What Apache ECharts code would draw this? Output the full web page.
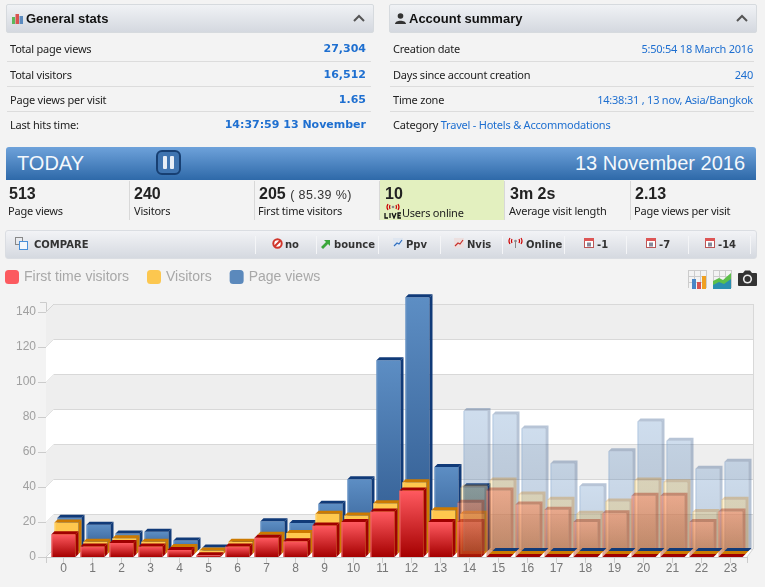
<!DOCTYPE html>
<html>
<head>
<meta charset="utf-8">
<title>Today stats</title>
<script src="https://cdn.jsdelivr.net/npm/echarts@6/dist/echarts.min.js"></script>
<style>
  html, body { margin: 0; padding: 0; background: #f3f3f3; overflow: hidden; }
  body { width: 765px; height: 587px; position: relative; font-family: "Noto Sans", "Liberation Sans", sans-serif; font-size: 11px; letter-spacing: -0.22px; color: #222; }
  #main { position: absolute; left: 0; top: 0; width: 765px; height: 587px; letter-spacing: 0; }
  .abs, .panel, .sep, .row, .num, .lab, .ci, .vs { position: absolute; }
  .panel { top: 4px; width: 366px; height: 27px; border: 1px solid #d6dade; border-radius: 2px; background: linear-gradient(#f0f2f5, #d4d8df); }
  .panel b { position: absolute; left: 19px; top: 6px; font: bold 13px "Liberation Sans", sans-serif; letter-spacing: 0; color: #111; }
  .panel svg { position: absolute; }
  .row { height: 14px; line-height: 14px; white-space: nowrap; color: #222; }
  .r { text-align: right; color: #1e6fd0; }
  .big { font: bold 11px "DejaVu Sans", sans-serif; letter-spacing: 0; color: #1e6fd0; }
  .sep { height: 1px; background: #dcdcdc; }
  #band { position: absolute; left: 6px; top: 147px; width: 750px; height: 33px; border-radius: 3px 3px 0 0; background: linear-gradient(#6ea2da, #2e69a9); color: #f4f8fc; font-family: "Liberation Sans", sans-serif; letter-spacing: 0; }
  #band span { position: absolute; top: 4px; font-size: 20px; line-height: 25px; }
  .num { top: 185px; font-family: "Liberation Sans", sans-serif; font-size: 16px; line-height: 18px; font-weight: bold; letter-spacing: 0; color: #222; }
  .num i { font-style: normal; font-weight: normal; font-size: 12.5px; color: #333; letter-spacing: 0.4px; }
  .lab { top: 204px; line-height: 14px; font-size: 11px; color: #222; white-space: nowrap; }
  .vs { top: 181px; width: 1px; height: 39px; background: #d8d8d8; }
  #cmp { position: absolute; left: 5px; top: 230px; width: 750px; height: 27px; border: 1px solid #dadde2; border-radius: 3px; background: linear-gradient(#f2f3f6, #d5d9e0); }
  .ci { top: 238px; font: bold 10px "DejaVu Sans", sans-serif; line-height: 14px; letter-spacing: 0; color: #333; white-space: nowrap; }
  .cs { position: absolute; top: 236px; width: 1px; height: 18px; background: #f4f5f7; }
</style>
</head>
<body>
<div id="main"></div>

<div class="panel" style="left:6px">
  <svg style="left:5px;top:8px" width="11" height="11"><rect x="0" y="4" width="3" height="7" fill="#5cb85c"/><rect x="3.5" y="1" width="3.5" height="10" fill="#d9534f"/><rect x="7.5" y="3" width="3.5" height="8" fill="#5b8bbf"/></svg>
  <b>General stats</b>
  <svg style="left:346px;top:9px" width="12" height="8"><path d="M1 7 L6 2 L11 7" fill="none" stroke="#555" stroke-width="2"/></svg>
</div>
<div class="panel" style="left:389px">
  <svg style="left:5px;top:8px" width="11" height="11"><circle cx="5.5" cy="3" r="2.8" fill="#333"/><path d="M0 11 C0 6.5 11 6.5 11 11 Z" fill="#333"/></svg>
  <b>Account summary</b>
  <svg style="left:346px;top:9px" width="12" height="8"><path d="M1 7 L6 2 L11 7" fill="none" stroke="#555" stroke-width="2"/></svg>
</div>

<div class="row" style="left:10px;top:42px">Total page views</div>
<div class="row r big" style="right:399px;top:42px">27,304</div>
<div class="sep" style="left:7px;width:364px;top:61px"></div>
<div class="row" style="left:10px;top:68px">Total visitors</div>
<div class="row r big" style="right:399px;top:68px">16,512</div>
<div class="sep" style="left:7px;width:364px;top:86px"></div>
<div class="row" style="left:10px;top:93px">Page views per visit</div>
<div class="row r big" style="right:399px;top:93px">1.65</div>
<div class="sep" style="left:7px;width:364px;top:111px"></div>
<div class="row" style="left:10px;top:118px">Last hits time:</div>
<div class="row r big" style="right:399px;top:118px">14:37:59 13 November</div>

<div class="row" style="left:393px;top:42px">Creation date</div>
<div class="row r" style="right:12px;top:42px">5:50:54 18 March 2016</div>
<div class="sep" style="left:390px;width:364px;top:61px"></div>
<div class="row" style="left:393px;top:68px">Days since account creation</div>
<div class="row r" style="right:12px;top:68px">240</div>
<div class="sep" style="left:390px;width:364px;top:86px"></div>
<div class="row" style="left:393px;top:93px">Time zone</div>
<div class="row r" style="right:12px;top:93px">14:38:31 , 13 nov, Asia/Bangkok</div>
<div class="sep" style="left:390px;width:364px;top:111px"></div>
<div class="row" style="left:393px;top:118px">Category <span style="color:#1e6fd0">Travel - Hotels &amp; Accommodations</span></div>

<div id="band">
  <span style="left:11px">TODAY</span>
  <span style="right:11px">13 November 2016</span>
  <svg style="position:absolute;left:150px;top:3px" width="25" height="25"><rect x="1" y="1" width="23" height="23" rx="5" fill="#3f74b0" stroke="#173f72" stroke-width="2"/><rect x="7" y="6" width="4" height="13" rx="1" fill="#e8eef6"/><rect x="14" y="6" width="4" height="13" rx="1" fill="#e8eef6"/></svg>
</div>

<div class="abs" style="left:380px;top:180px;width:124px;height:40px;background:#e3f0bf"></div>
<div class="vs" style="left:129px"></div>
<div class="vs" style="left:254px"></div>
<div class="vs" style="left:379px"></div>
<div class="vs" style="left:504px"></div>
<div class="vs" style="left:630px"></div>
<div class="num" style="left:9px">513</div><div class="lab" style="left:8px">Page views</div>
<div class="num" style="left:134px">240</div><div class="lab" style="left:134px">Visitors</div>
<div class="num" style="left:259px">205 <i>( 85.39 %)</i></div><div class="lab" style="left:258px">First time visitors</div>
<div class="num" style="left:385px">10</div><div class="lab" style="left:402px;top:206px">Users online</div>
<svg class="abs" style="left:384px;top:203px" width="18" height="16"><path d="M4 1 Q2 4 4 7 M14 1 Q16 4 14 7 M6 2 Q5 4 6 6 M12 2 Q13 4 12 6" fill="none" stroke="#c00" stroke-width="1.2"/><circle cx="9" cy="4" r="1.3" fill="#888"/><path d="M1 10 V15 H4 M6 10 V15 M8 10 L10 15 L12 10 M17 10 H14 V15 H17 M14 12.5 H16.5" fill="none" stroke="#111" stroke-width="1.3"/></svg>
<div class="num" style="left:510px">3m 2s</div><div class="lab" style="left:509px">Average visit length</div>
<div class="num" style="left:635px">2.13</div><div class="lab" style="left:634px">Page views per visit</div>

<div id="cmp"></div>
<svg class="abs" style="left:15px;top:237px" width="13" height="13"><rect x="0.5" y="0.5" width="7" height="7" fill="none" stroke="#888"/><rect x="4.5" y="4.5" width="8" height="8" fill="#f4f8fc" stroke="#4a90d9"/></svg>
<div class="ci" style="left:34px;top:238px">COMPARE</div>
<div class="cs" style="left:255px"></div><div class="cs" style="left:316px"></div><div class="cs" style="left:378px"></div>
<div class="cs" style="left:440px"></div><div class="cs" style="left:502px"></div><div class="cs" style="left:564px"></div>
<div class="cs" style="left:626px"></div><div class="cs" style="left:688px"></div><div class="cs" style="left:750px"></div>
<svg class="abs" style="left:272px;top:238px" width="11" height="11"><circle cx="5.5" cy="5.5" r="4.2" fill="#fff" stroke="#d0352b" stroke-width="2"/><path d="M2.5 8.5 L8.5 2.5" stroke="#d0352b" stroke-width="2"/></svg>
<div class="ci" style="left:285px">no</div>
<svg class="abs" style="left:320px;top:238px" width="11" height="11"><path d="M1 9 L6 4 L4 2 H10 V8 L8 6 L3 11 Z" fill="#3aa63a"/></svg>
<div class="ci" style="left:334px">bounce</div>
<svg class="abs" style="left:393px;top:238px" width="10" height="10"><rect width="10" height="10" fill="#dfe6f0"/><path d="M1 8 L4 5 L6 6 L9 2" fill="none" stroke="#2f6fc0" stroke-width="1.2"/></svg>
<div class="ci" style="left:406px">Ppv</div>
<svg class="abs" style="left:454px;top:238px" width="10" height="10"><rect width="10" height="10" fill="#ecdfdf"/><path d="M1 8 L4 5 L6 6 L9 2" fill="none" stroke="#c8302b" stroke-width="1.2"/></svg>
<div class="ci" style="left:467px">Nvis</div>
<svg class="abs" style="left:507px;top:237px" width="17" height="12"><path d="M3 1 Q1 4 3 7 M14 1 Q16 4 14 7 M5 2 Q4 4 5 6 M12 2 Q13 4 12 6" fill="none" stroke="#c00" stroke-width="1.2"/><circle cx="8.5" cy="4" r="1.3" fill="#888"/><path d="M8.5 5 V11" stroke="#888"/></svg>
<div class="ci" style="left:526px">Online</div>
<svg class="abs" style="left:584px;top:238px" width="10" height="10"><rect x="0.5" y="0.5" width="9" height="9" fill="#fff" stroke="#b55"/><rect x="0" y="0" width="10" height="3" fill="#d55"/><rect x="3" y="4.5" width="4" height="4" fill="#889"/></svg>
<div class="ci" style="left:597px">-1</div>
<svg class="abs" style="left:646px;top:238px" width="10" height="10"><rect x="0.5" y="0.5" width="9" height="9" fill="#fff" stroke="#b55"/><rect x="0" y="0" width="10" height="3" fill="#d55"/><rect x="3" y="4.5" width="4" height="4" fill="#889"/></svg>
<div class="ci" style="left:659px">-7</div>
<svg class="abs" style="left:705px;top:238px" width="10" height="10"><rect x="0.5" y="0.5" width="9" height="9" fill="#fff" stroke="#b55"/><rect x="0" y="0" width="10" height="3" fill="#d55"/><rect x="3" y="4.5" width="4" height="4" fill="#889"/></svg>
<div class="ci" style="left:718px">-14</div>

<svg class="abs" style="left:688px;top:270px" width="19" height="19"><path d="M0.5 0 V18 M6.5 0 V18 M12.5 0 V18 M18.5 0 V18 M0 0.5 H19 M0 6.5 H19 M0 12.5 H19" stroke="#ccc"/><rect x="4" y="9" width="4" height="10" fill="#4a86c5"/><rect x="9" y="12" width="4" height="7" fill="#d9534f"/><rect x="14" y="6" width="4" height="13" fill="#f0a020"/></svg>
<svg class="abs" style="left:713px;top:270px" width="19" height="19"><path d="M0.5 0 V18 M6.5 0 V18 M12.5 0 V18 M18.5 0 V18 M0 0.5 H19 M0 6.5 H19 M0 12.5 H19" stroke="#ccc"/><path d="M0 11 L6 8 L10 10 L18 3 V19 H0 Z" fill="#5cc04a"/><path d="M0 15 L6 12 L11 14 L18 9 V19 H0 Z" fill="#2a8fb0"/></svg>
<svg class="abs" style="left:738px;top:270px" width="19" height="16"><path d="M1 3 H5 L7 0.5 H12 L14 3 H18 Q19 3 19 4 V15 Q19 16 18 16 H1 Q0 16 0 15 V4 Q0 3 1 3 Z" fill="#333"/><circle cx="9.5" cy="9" r="4.6" fill="#eee"/><circle cx="9.5" cy="9" r="3" fill="#333"/></svg>

<script>
// values
const hours = ["0", "1", "2", "3", "4", "5", "6", "7", "8", "9", "10", "11", "12", "13", "14", "15", "16", "17", "18", "19", "20", "21", "22", "23"];
const firstTimeVisitors = [13, 6, 8, 6, 4, 1, 6, 11, 9, 18, 20, 26, 38, 20, 20, 0, 0, 0, 0, 0, 0, 0, 0, 0];
const visitors = [18, 7, 9, 7, 4, 2, 7, 11, 12, 23, 22, 29, 41, 25, 23, 0, 0, 0, 0, 0, 0, 0, 0, 0];
const pageViews = [19, 15, 10, 11, 6, 2, 5, 17, 16, 27, 41, 109, 145, 48, 37, 0, 0, 0, 0, 0, 0, 0, 0, 0];
// faded bars for the rest of the day, starting at hour 14
const ghostStart = 14;
const ghostFirstTime = [31, 38, 30, 27, 20, 25, 35, 35, 20, 26];
const ghostVisitors = [38, 42, 34, 31, 23, 30, 42, 41, 24, 31];
const ghostPageViews = [80, 78, 70, 50, 37, 57, 74, 63, 47, 51];
const wallTicks = [0, 20, 40, 60, 80, 100, 120];

const chart = echarts.init(document.getElementById("main"));

const blue = { top: "#5d8ec4", bottom: "#2d578c", dark: "#103a78", edge: "#6f98c8" };
const yellow = { top: "#ffc84e", bottom: "#ffc84e", dark: "#cc7a00", edge: "#ffd97f" };
const red = { top: "#ff5a60", bottom: "#a50000", dark: "#a00000", edge: "#f06a6a" };
const ghostRed = { top: "#ff7050", bottom: "#a03008", dark: "#a82810", edge: "#ff9a80" };
const DEPTH = 3;
const FACE = 24;

function face(c) {
  return new echarts.graphic.LinearGradient(0, 0, 0, 1, [
    { offset: 0, color: c.top },
    { offset: 1, color: c.bottom },
  ]);
}

// one 3D column: step is how far back in the chart the series sits
function columnItem(step, c, opacity) {
  return (params, api) => {
    const v = api.value(1);
    const base = api.coord([api.value(0), 0]);
    const h = base[1] - api.coord([api.value(0), v])[1];
    const x = base[0] - FACE / 2 + step * DEPTH;
    const yb = base[1] - step * DEPTH;
    const yt = yb - h;
    const children = [];
    if (v > 0) {
      children.push({
        type: "rect",
        shape: { x: x, y: yt, width: FACE, height: h },
        style: { fill: face(c), opacity: opacity },
      });
      children.push({
        type: "polygon",
        shape: { points: [[x + FACE, yt], [x + FACE + DEPTH, yt - DEPTH], [x + FACE + DEPTH, yb - DEPTH], [x + FACE, yb]] },
        style: { fill: c.dark, opacity: opacity },
      });
      children.push({
        type: "line",
        shape: { x1: x + 0.5, y1: yt, x2: x + 0.5, y2: yb },
        style: { stroke: c.edge, lineWidth: 1, opacity: opacity },
      });
    }
    children.push({
      type: "polygon",
      shape: { points: [[x, yt], [x + DEPTH, yt - DEPTH], [x + FACE + DEPTH, yt - DEPTH], [x + FACE, yt]] },
      style: { fill: c.dark, opacity: opacity },
    });
    return { type: "group", children: children };
  };
}

// back wall bands, floor and the axis bits the category/value axes do not draw
function wallItem(params, api) {
  const cs = params.coordSys;
  const tick = api.value(0);
  const idx = wallTicks.indexOf(tick);
  const y0 = api.coord([0, tick])[1];
  const y1 = api.coord([0, tick + 20])[1];
  const lx = cs.x + 5;
  const rx = cs.x + 704;
  const children = [
    { type: "rect", shape: { x: lx, y: y1 - 8, width: rx - lx, height: y0 - y1 }, style: { fill: idx % 2 ? "#ffffff" : "#eeeeee" } },
    { type: "polygon", shape: { points: [[cs.x - 3, y1], [lx, y1 - 8], [lx, y0 - 8], [cs.x - 3, y0]] }, style: { fill: idx % 2 ? "#ffffff" : "#eeeeee" } },
    { type: "line", shape: { x1: lx, y1: y1 - 7.5, x2: rx, y2: y1 - 7.5 }, style: { stroke: "#d8d8d8", lineWidth: 1 } },
    { type: "line", shape: { x1: cs.x - 3, y1: y1, x2: lx, y2: y1 - 8 }, style: { stroke: "#d4d4d4", lineWidth: 1 } },
  ];
  if (idx === 0) {
    children.push(
      { type: "polygon", shape: { points: [[cs.x - 3, y0], [lx, y0 - 8], [rx, y0 - 8], [cs.x + 698, y0]] }, style: { fill: "#ffffff" } },
      { type: "line", shape: { x1: lx, y1: y0 - 7.5, x2: rx, y2: y0 - 7.5 }, style: { stroke: "#d8d8d8", lineWidth: 1 } },
      { type: "line", shape: { x1: cs.x - 3, y1: y0, x2: lx, y2: y0 - 8 }, style: { stroke: "#d4d4d4", lineWidth: 1 } },
      { type: "line", shape: { x1: cs.x - 3, y1: y0 + 0.5, x2: cs.x + 698, y2: y0 + 0.5 }, style: { stroke: "#cccccc", lineWidth: 1 } },
      { type: "line", shape: { x1: cs.x + 698, y1: y0, x2: rx, y2: y0 - 8 }, style: { stroke: "#d4d4d4", lineWidth: 1 } },
      { type: "line", shape: { x1: rx + 0.5, y1: y0 - 8, x2: rx + 0.5, y2: cs.y - 8 }, style: { stroke: "#d8d8d8", lineWidth: 1 } },
      { type: "line", shape: { x1: cs.x - 2.5, y1: y0, x2: cs.x - 2.5, y2: y0 + 6 }, style: { stroke: "#cccccc", lineWidth: 1 } },
      { type: "line", shape: { x1: cs.x + 698.5, y1: y0, x2: cs.x + 698.5, y2: y0 + 6 }, style: { stroke: "#cccccc", lineWidth: 1 } },
      { type: "polyline", shape: { points: [[cs.x - 2.5, cs.y], [cs.x - 2.5, cs.y - 9.5], [cs.x - 9, cs.y - 9.5]] }, style: { fill: "none", stroke: "#cccccc", lineWidth: 1 } }
    );
  }
  return { type: "group", children: children };
}

function pairs(values) {
  return values.map((v, i) => [i, v]);
}
function ghostPairs(values) {
  return values.map((v, i) => [ghostStart + i, v]);
}
function flatPairs(values) {
  return pairs(values).filter((p) => p[1] === 0);
}
function realPairs(values) {
  return pairs(values).filter((p) => p[1] > 0);
}

function column(name, data, step, c, opacity, z) {
  return {
    name: name,
    type: "custom",
    coordinateSystem: "cartesian2d",
    renderItem: columnItem(step, c, opacity),
    encode: { x: 0, y: 1 },
    data: data,
    z: z,
    silent: true,
    itemStyle: { color: c.top },
  };
}

const option = {
  animation: false,
  backgroundColor: "transparent",
  tooltip: { show: false },
  legend: {
    left: 0,
    top: 265,
    itemWidth: 14,
    itemHeight: 14,
    itemGap: 18,
    selectedMode: false,
    icon: "roundRect",
    textStyle: { color: "#a8a8a8", fontSize: 14, fontFamily: "Liberation Sans" },
    data: [
      { name: "First time visitors", itemStyle: { color: "#fc5a5f" } },
      { name: "Visitors", itemStyle: { color: "#fcc74f" } },
      { name: "Page views", itemStyle: { color: "#5b89bc" } },
    ],
  },
  grid: { left: 49, top: 312, width: 696, height: 245 },
  xAxis: {
    type: "category",
    data: hours,
    boundaryGap: true,
    axisLine: { show: false },
    axisTick: { show: true, alignWithLabel: true, length: 6, lineStyle: { color: "#cccccc" } },
    axisLabel: { color: "#777777", fontSize: 12, fontFamily: "Liberation Sans", margin: 6, interval: 0 },
  },
  yAxis: {
    type: "value",
    min: 0,
    max: 140,
    interval: 20,
    offset: 3,
    axisLine: { show: true, lineStyle: { color: "#cccccc" } },
    axisTick: { show: true, length: 8, lineStyle: { color: "#cccccc" } },
    axisLabel: { color: "#a0a0a0", fontSize: 12, fontFamily: "Liberation Sans", margin: 10 },
    splitLine: { show: false },
  },
  series: [
    { type: "custom", coordinateSystem: "cartesian2d", renderItem: wallItem, data: wallTicks.map((t) => [t]), encode: { y: 0 }, z: 1, silent: true },
    column("Page views", realPairs(pageViews), 2, blue, 1, 2),
    column("Visitors", realPairs(visitors), 1, yellow, 1, 3),
    column("First time visitors", realPairs(firstTimeVisitors), 0, red, 1, 4),
    column("ghost page views", ghostPairs(ghostPageViews), 2, blue, 0.3, 5),
    column("ghost visitors", ghostPairs(ghostVisitors), 1, yellow, 0.3, 6),
    column("ghost first time", ghostPairs(ghostFirstTime), 0, ghostRed, 0.42, 7),
    column("flat page views", flatPairs(pageViews), 2, blue, 1, 8),
    column("flat visitors", flatPairs(visitors), 1, yellow, 1, 9),
    column("flat first time", flatPairs(firstTimeVisitors), 0, red, 1, 10),
  ],
};

chart.setOption(option);
</script>
</body>
</html>
